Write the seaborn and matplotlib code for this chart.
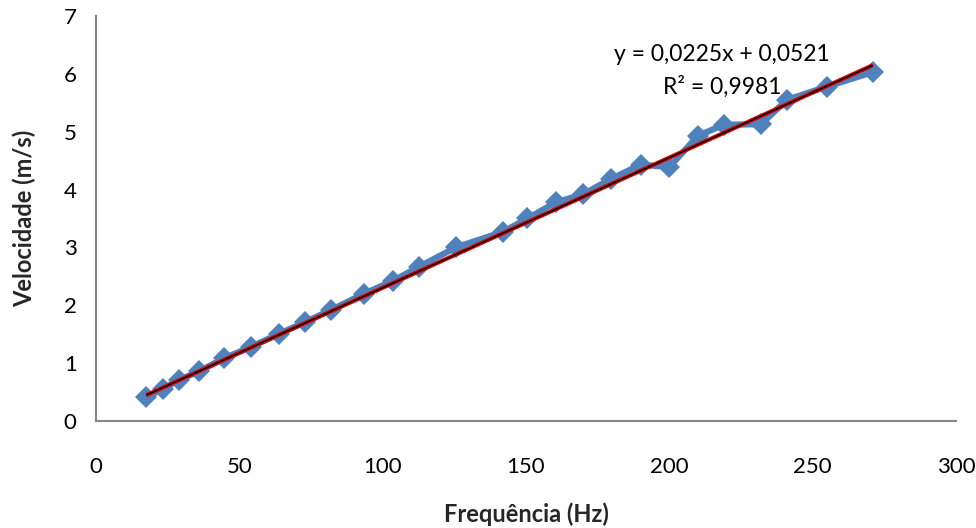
import matplotlib
matplotlib.use("Agg")
import matplotlib.pyplot as plt
import seaborn as sns
import numpy as np
import pandas as pd

freq = [17.5, 23.5, 29, 36, 44.5, 54, 64, 73, 82, 93.5, 103.5, 112.5, 125.5,
        142, 150.5, 160.5, 170, 179.5, 190, 200, 210, 219, 232, 241, 255, 271]
vel = [0.41, 0.56, 0.71, 0.86, 1.08, 1.28, 1.51, 1.71, 1.92, 2.2, 2.42, 2.66, 3.0,
       3.27, 3.5, 3.78, 3.92, 4.18, 4.43, 4.39, 4.93, 5.12, 5.13, 5.55, 5.78, 6.03]
slope = 0.0225
intercept = 0.0521
eq_text = "y = 0,0225x + 0,0521"
r2_text = "R² = 0,9981"
xticks = [0, 50, 100, 150, 200, 250, 300]
yticks = [0, 1, 2, 3, 4, 5, 6, 7]

df = pd.DataFrame({"freq": freq, "vel": vel})

sns.set_theme(style="white")
plt.rcParams['font.family'] = ['Lato', 'DejaVu Sans']

fig = plt.figure(figsize=(9.76, 5.28), dpi=100)
ax = fig.add_axes([0.0984, 0.2027, 0.8811, 0.767])

blue = "#4F81BD"
sns.lineplot(data=df, x="freq", y="vel", ax=ax, color=blue, linewidth=4.5,
             marker="D", markersize=11, markeredgewidth=0, markerfacecolor=blue,
             sort=False, zorder=2)

xf = np.array([min(freq), max(freq)])
yf = slope * xf + intercept
ax.plot(xf, yf, color="#E00000", linewidth=3.0, zorder=3, solid_capstyle="butt")
ax.plot(xf, yf, color="black", linewidth=1.1, zorder=4, solid_capstyle="butt")

ax.set_xlim(0, 300)
ax.set_ylim(0, 7)
ax.set_xticks(xticks)
ax.set_yticks(yticks)
ax.tick_params(axis="both", length=0, labelsize=16, colors="black")
ax.tick_params(axis="x", pad=26)
ax.tick_params(axis="y", pad=14)

for s in ["top", "right"]:
    ax.spines[s].set_visible(False)
for s in ["left", "bottom"]:
    ax.spines[s].set_color("#868686")
    ax.spines[s].set_linewidth(1.5)

ax.set_xlabel("Frequência (Hz)", fontsize=17, fontweight="bold", labelpad=18)
ax.set_ylabel("Velocidade (m/s)", fontsize=17, fontweight="bold", labelpad=20)

ax.text(218.5, 6.33, eq_text, ha="center", va="center", fontsize=16.5, color="black")
ax.text(218.5, 5.77, r2_text, ha="center", va="center", fontsize=16.5, color="black")

fig.savefig("out.png", dpi=100)
